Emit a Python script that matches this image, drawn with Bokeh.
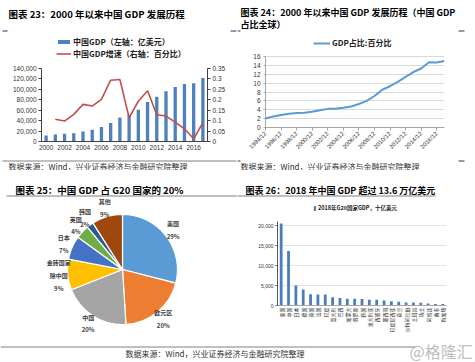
import math
import numpy as np
from bokeh.plotting import figure
from bokeh.models import (Range1d, LinearAxis, FactorRange, Label,
                          Legend, LegendItem, FixedTicker, NumeralTickFormatter)
from bokeh.layouts import column, row
from bokeh.embed import file_html
from bokeh.resources import INLINE
from bokeh.core.properties import value

CJK = "Noto Sans CJK SC"
NUM = "Liberation Sans"

# ---------------- Chart 23 data ----------------
gdp_years = [2000, 2001, 2002, 2003, 2004, 2005, 2006, 2007, 2008,
             2009, 2010, 2011, 2012, 2013, 2014, 2015, 2016, 2017]
gdp_values = [11600, 13500, 14800, 16000, 19300, 22500, 27600, 35300, 46200,
              50700, 61000, 75800, 86000, 96300, 104700, 110400, 111700, 122000]
growth_years = [2001, 2002, 2003, 2004, 2005, 2006, 2007, 2008, 2009,
                2010, 2011, 2012, 2013, 2014, 2015, 2016, 2017]
growth_values = [0.107, 0.098, 0.130, 0.178, 0.170, 0.202, 0.294, 0.297, 0.114,
                 0.193, 0.243, 0.128, 0.122, 0.093, 0.061, 0.013, 0.090]
gdp_tick_years = [2000, 2002, 2004, 2006, 2008, 2010, 2012, 2014, 2016]
gdp_tick_labels = ["2000", "2002", "2004", "2006", "2008", "2010", "2012", "2014", "2016"]
gdp_ticks = [0, 20000, 40000, 60000, 80000, 100000, 120000, 140000]
growth_ticks = [0, 0.05, 0.1, 0.15, 0.2, 0.25, 0.3, 0.35]

# ---------------- Chart 24 data ----------------
share_years = [1994, 1995, 1996, 1997, 1998, 1999, 2000, 2001, 2002, 2003, 2004, 2005,
               2006, 2007, 2008, 2009, 2010, 2011, 2012, 2013, 2014, 2015, 2016, 2017]
share_values = [2.04, 2.5, 2.8, 3.1, 3.25, 3.3, 3.55, 3.9, 4.2, 4.25, 4.45, 4.75,
                5.3, 6.0, 7.1, 8.5, 9.3, 10.3, 11.4, 12.5, 13.3, 14.7, 14.65, 15.0]
share_tick_years = [1994, 1996, 1998, 2000, 2002, 2004, 2006, 2008, 2010, 2012, 2014, 2016]
share_tick_labels = ["1994/12", "1996/12", "1998/12", "2000/12", "2002/12", "2004/12",
                     "2006/12", "2008/12", "2010/12", "2012/12", "2014/12", "2016/12"]
share_y_ticks = [0, 2, 4, 6, 8, 10, 12, 14, 16]

# ---------------- Chart 25 data ----------------
pie_names = ["美国", "欧元区", "中国", "金砖国家\n除中国", "日本", "英国", "韩国", "其他"]
pie_values = [29, 20, 20, 9, 7, 4, 2, 9]
pie_colors = ["#5B9BD5", "#ED7D31", "#A5A5A5", "#FFC000", "#4472C4", "#70AD47", "#255E91", "#9E480E"]

# ---------------- Chart 26 data ----------------
g20_names = ["美国", "中国", "日本", "德国", "英国", "法国", "印度", "意大利", "巴西",
             "加拿大", "俄罗斯", "韩国", "澳大利亚", "西班牙", "墨西哥", "印度尼西亚",
             "荷兰", "沙特阿拉伯", "土耳其", "瑞士", "阿根廷", "南非", "新加坡"]
g20_values = [20500, 13600, 4970, 4000, 2830, 2780, 2720, 2070, 1870, 1710, 1660, 1620,
              1430, 1420, 1220, 1040, 910, 780, 770, 700, 520, 400, 360]
g20_ticks = [0, 5000, 10000, 15000, 20000]

SOURCE = "数据来源：Wind，兴业证券经济与金融研究院整理"
NAVY = "#1F3864"
GREY_LINE = "#808080"


def deco(ox, oy, w, h):
    """Figure whose frame is the whole canvas, data coords == page pixels."""
    p = figure(width=w, height=h, toolbar_location=None, output_backend="svg", title=None,
               x_axis_location=None, y_axis_location=None,
               x_range=Range1d(ox, ox + w), y_range=Range1d(oy + h, oy),
               min_border_left=0, min_border_right=0, min_border_top=0, min_border_bottom=0)
    p.grid.visible = False
    p.outline_line_color = None
    p.border_fill_color = "white"
    p.background_fill_color = "white"
    return p


def dtext(p, x, y, s, size, color="#000000", bold=False, font=CJK, align="left"):
    p.add_layout(Label(x=x, y=y, text=s, text_font=font, text_font_size=f"{size}px",
                       text_font_style="bold" if bold else "normal",
                       text_color=color, text_align=align, text_baseline="middle"))


def dline(p, x0, x1, y, color, width=1):
    p.segment(x0=[x0], y0=[y], x1=[x1], y1=[y], line_color=color, line_width=width)


def new_fig(w, h, fr, origin, **kw):
    ox, oy = origin
    L, T, R, B = fr
    p = figure(width=w, height=h, toolbar_location=None, output_backend="svg", title=None,
               min_border_left=L - ox, min_border_top=T - oy,
               min_border_right=ox + w - R, min_border_bottom=oy + h - B, **kw)
    p.outline_line_color = None
    p.border_fill_color = "white"
    p.background_fill_color = "white"
    return p


def box(*items):
    """Wrap every figure in its own container so that frames are not aligned."""
    return column(*[column(it) for it in items])


def style_axis(ax, size, color="#333333", line="#404040", font=NUM, tick_out=0, standoff=3):
    ax.major_label_text_font = font
    ax.major_label_text_font_size = f"{size}px"
    ax.major_label_text_color = color
    ax.axis_line_color = line
    ax.major_tick_line_color = line
    ax.major_tick_out = tick_out
    ax.major_tick_in = 0
    ax.minor_tick_line_color = None
    ax.major_label_standoff = standoff


def style_legend(lg, size, gw, gh, standoff=2, spacing=1):
    lg.background_fill_alpha = 0
    lg.border_line_color = None
    lg.padding = 0
    lg.margin = 0
    lg.spacing = spacing
    lg.glyph_width = gw
    lg.glyph_height = gh
    lg.label_height = 6
    lg.label_standoff = standoff
    lg.label_text_font = CJK
    lg.label_text_font_size = f"{size}px"
    lg.label_text_font_style = "bold"
    lg.label_text_color = "#222222"


# ================= Chart 23 =================
hdrA = deco(0, 0, 237, 33)
dtext(hdrA, 8, 13, "图表 23：2000 年以来中国 GDP 发展历程", 9.5, bold=True)
dline(hdrA, 2, 7, 30.5, NAVY)
dline(hdrA, 230, 236, 30.5, NAVY)

frA = (41, 33, 207, 141)       # frame top raised to hold the legend
A_top_px = 68                  # pixel row of the 140,000 tick
pA = new_fig(237, 124, frA, (0, 33),
             x_range=Range1d(1999.5, 2017.5),
             y_range=Range1d(0, gdp_ticks[-1] * (frA[3] - frA[1]) / (frA[3] - A_top_px)))
pA.extra_y_ranges = {"growth": Range1d(0, growth_ticks[-1] * (frA[3] - frA[1]) / (frA[3] - A_top_px))}
rb = pA.vbar(x=gdp_years, top=gdp_values, width=0.36, fill_color="#4F81BD", line_color=None)
rl = pA.line(x=growth_years, y=growth_values, y_range_name="growth",
             line_color="#C0504D", line_width=1.6)
pA.add_layout(LinearAxis(y_range_name="growth"), "right")
pA.grid.visible = False
axA = pA.below[0]
style_axis(axA, 6.5, tick_out=0, standoff=3)
axA.ticker = FixedTicker(ticks=gdp_tick_years)
axA.major_label_overrides = dict(zip(gdp_tick_years, gdp_tick_labels))
axL = pA.left[0]
style_axis(axL, 6.5, tick_out=3, standoff=2)
axL.ticker = FixedTicker(ticks=gdp_ticks)
axL.formatter = NumeralTickFormatter(format="0,0")
axL.bounds = (gdp_ticks[0], gdp_ticks[-1])
axR = pA.right[0]
style_axis(axR, 6.5, tick_out=3, standoff=2)
axR.ticker = FixedTicker(ticks=growth_ticks)
axR.major_label_overrides = {t: f"{t:g}" for t in growth_ticks}
axR.bounds = (growth_ticks[0], growth_ticks[-1])
# legend location = bottom-left corner, in px from the frame's bottom-left
lgA = Legend(items=[LegendItem(label="中国GDP（左轴：亿美元）", renderers=[rb]),
                    LegendItem(label="中国GDP增速（右轴：百分比）", renderers=[rl])],
             location=(15, 141 - 59))
style_legend(lgA, 8, 15, 5, standoff=2, spacing=1)
pA.add_layout(lgA)

ftrA = deco(0, 157, 237, 13)
dline(ftrA, 2, 236, 160.5, GREY_LINE)
dtext(ftrA, 8, 165.5, SOURCE, 8, color="#333333")

# ================= Chart 24 =================
hdrB = deco(237, 0, 238, 33)
dtext(hdrB, 240, 12, "图表 24：2000 年以来中国 GDP 发展历程（中国 GDP", 9, bold=True)
dtext(hdrB, 240, 23.5, "占比全球）", 9, bold=True)
dline(hdrB, 237, 240, 30.5, NAVY)
dline(hdrB, 458, 464, 30.5, NAVY)

frB = (265, 33, 444, 127)
B_top_px = 56
pB = new_fig(238, 124, frB, (237, 33), x_range=Range1d(share_years[0], share_years[-1]),
             y_range=Range1d(0, share_y_ticks[-1] * (frB[3] - frB[1]) / (frB[3] - B_top_px)))
rs = pB.line(x=share_years, y=share_values, line_color="#5B9BD5", line_width=2)
pB.xgrid.visible = False
pB.ygrid.grid_line_color = "#D9D9D9"
pB.ygrid.ticker = FixedTicker(ticks=share_y_ticks)
axBx = pB.below[0]
style_axis(axBx, 6, line="#A6A6A6", tick_out=3, standoff=2)
axBx.ticker = FixedTicker(ticks=share_tick_years)
axBx.major_label_overrides = dict(zip(share_tick_years, share_tick_labels))
axBx.major_label_orientation = math.pi / 4
axBy = pB.left[0]
style_axis(axBy, 6.5, line="#A6A6A6", tick_out=2, standoff=3)
axBy.ticker = FixedTicker(ticks=share_y_ticks)
axBy.bounds = (share_y_ticks[0], share_y_ticks[-1])
lgB = Legend(items=[LegendItem(label="GDP占比:百分比", renderers=[rs])],
             location=(48, 127 - 48))
style_legend(lgB, 8, 17, 8, standoff=2)
pB.add_layout(lgB)

ftrB = deco(237, 157, 238, 13)
dline(ftrB, 237, 240, 160.5, NAVY)
dline(ftrB, 458, 464, 160.5, NAVY)
dtext(ftrB, 240, 165.5, SOURCE, 8, color="#333333")

# ================= Chart 25 =================
hdrC = deco(0, 170, 237, 27)
dtext(hdrC, 15, 189.5, "图表 25：中国 GDP 占 G20 国家的 20%", 9.5, bold=True)
dline(hdrC, 6, 237, 195.5, GREY_LINE)

cx, cy = 122, 269
pC = new_fig(237, 143, (0, 197, 237, 340), (0, 197), x_axis_location=None, y_axis_location=None,
             x_range=Range1d(0 - cx, 237 - cx), y_range=Range1d(cy - 340, cy - 197))
pC.grid.visible = False
frac = np.array(pie_values, dtype=float) / float(sum(pie_values))
cum = np.concatenate([[0.0], np.cumsum(frac)])
start = np.pi / 2 - 2 * np.pi * cum[:-1]
end = np.pi / 2 - 2 * np.pi * cum[1:]
pC.wedge(x=0, y=0, radius=55, start_angle=start, end_angle=end, direction="clock",
         fill_color=pie_colors, line_color="white", line_width=1.2)
mid = (start + end) / 2
lab_r = 64
pie_labels = [f"{n}\n{v}%" for n, v in zip(pie_names, pie_values)]
pC.text(x=lab_r * np.cos(mid), y=lab_r * np.sin(mid), text=pie_labels,
        text_align="center", text_baseline="middle", text_font=value(CJK),
        text_font_size="6px", text_font_style="bold", text_color="#404040",
        text_line_height=1.4)

# ================= Chart 26 =================
hdrD = deco(237, 170, 238, 30)
dtext(hdrD, 245, 190, "图表 26：2018 年中国 GDP 超过 13.6 万亿美元", 9, bold=True)
dline(hdrD, 237, 435, 195.5, GREY_LINE)

frD = (277, 200, 446, 305)
D_top_px = 225
pD = new_fig(238, 140, frD, (237, 200), x_range=FactorRange(factors=g20_names),
             y_range=Range1d(0, g20_ticks[-1] * (frD[3] - frD[1]) / (frD[3] - D_top_px)))
rg = pD.vbar(x=g20_names, top=g20_values, width=0.38, fill_color="#4A7EBB", line_color=None)
pD.xgrid.visible = False
pD.ygrid.grid_line_color = "#E3E3E3"
pD.ygrid.ticker = FixedTicker(ticks=g20_ticks)
axDx = pD.below[0]
style_axis(axDx, 5, font=CJK, line="#A6A6A6", tick_out=0, standoff=2)
axDx.major_label_orientation = math.pi / 2
axDy = pD.left[0]
style_axis(axDy, 5, line="#595959", tick_out=2, standoff=2)
axDy.ticker = FixedTicker(ticks=g20_ticks)
axDy.formatter = NumeralTickFormatter(format="0,0")
axDy.bounds = (0, 21000)
lgD = Legend(items=[LegendItem(label="2018年G20国家GDP，十亿美元", renderers=[rg])],
             location=(36, 305 - 212))
style_legend(lgD, 5.5, 3, 6, standoff=2)
pD.add_layout(lgD)

# ================= Footer =================
ftrF = deco(0, 340, 475, 22)
dline(ftrF, 0, 415, 346.5, GREY_LINE)
dtext(ftrF, 125, 353, SOURCE, 8, color="#333333")
dtext(ftrF, 409, 350, "@格隆汇", 16, color="#BDBDBD")

layout = column(
    row(box(hdrA, pA, ftrA), box(hdrB, pB, ftrB)),
    row(box(hdrC, pC), box(hdrD, pD)),
    column(ftrF),
)
with open("out.html", "w", encoding="utf-8") as f:
    f.write(file_html(layout, INLINE))
